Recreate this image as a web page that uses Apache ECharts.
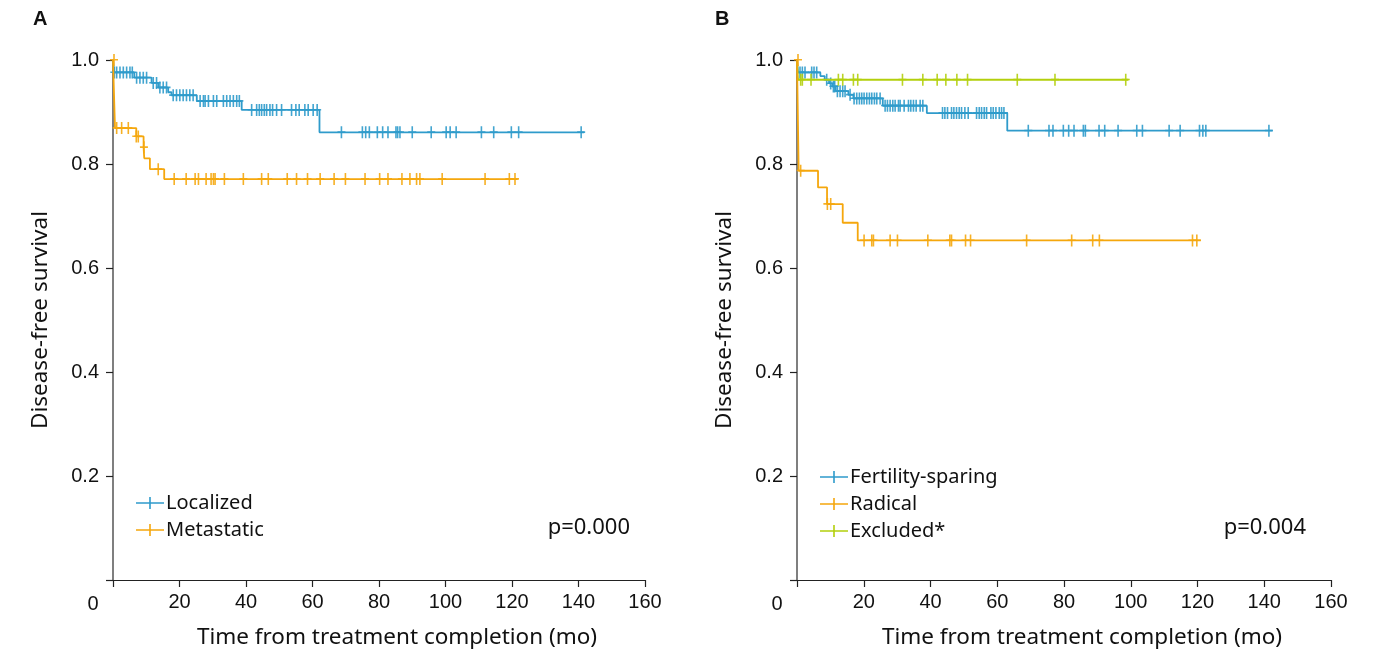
<!DOCTYPE html>
<html>
<head>
<meta charset="utf-8">
<script src="https://cdn.jsdelivr.net/npm/echarts@6/dist/echarts.min.js"></script>
<style>
  html, body { margin: 0; padding: 0; background: #fff; }
  #main { width: 1377px; height: 655px; }
</style>
</head>
<body>
<div id="main"></div>
<script>
// ---- data: step points [time, survival] and censor times (months) ----
var xTicks = [0, 20, 40, 60, 80, 100, 120, 140, 160];

// Panel A
var localizedSteps = [[0, 1.0], [0.3, 0.976], [6.4, 0.966], [11.6, 0.956], [13.6, 0.947], [16.6, 0.938],
    [17.6, 0.932], [25.2, 0.921], [38.7, 0.904], [62.1, 0.861], [141.7, 0.861]];
var localizedCensor = [0.4, 1.1, 2.1, 3.1, 4.1, 5.1, 5.8, 7.1, 8.1, 9.1, 10.1, 12.1, 13.1, 14.1, 15.1, 16.1,
    18.1, 19.1, 20.1, 21.1, 22.1, 23.1, 24.1, 26.2, 27.2, 27.7, 28.7, 30.2, 31.2, 33.2, 34.2, 35.2, 36.2,
    37.2, 38, 41.7, 43.2, 44, 44.7, 45.5, 46.2, 47.2, 48, 49.2, 50.7, 53.7, 55, 56, 57.7, 58.7, 60.2, 61.4,
    68.7, 75, 76, 77.1, 79.5, 81.1, 82.7, 85.1, 85.6, 86.3, 90, 95.7, 100.2, 101.4, 103.2, 110.8, 114.5,
    119.8, 122, 140.8];

var metastaticSteps = [[0, 1.0], [0.6, 0.869], [7.0, 0.853], [9.2, 0.832], [9.4, 0.811], [11.1, 0.790],
    [15.4, 0.771], [121.7, 0.771]];
var metastaticCensor = [0.3, 1.1, 2.6, 4.6, 7.0, 7.6, 9.3, 13.6, 18.4, 22, 24.7, 25.7, 28, 29.5, 30.2, 30.7,
    33.5, 39.2, 44.7, 46.7, 52.4, 55.2, 58.5, 62.3, 66.5, 69.9, 75.8, 80.2, 82.7, 86.9, 89.3, 91.3, 92.3,
    99, 111.9, 119.2, 120.9];

// Panel B
var fertilitySteps = [[0, 1.0], [0.3, 0.976], [7.0, 0.969], [8.3, 0.962], [9.6, 0.955], [10.6, 0.949],
    [11.6, 0.940], [15.4, 0.933], [16.9, 0.926], [25.7, 0.912], [38.9, 0.898], [63.0, 0.864], [142.5, 0.864]];
var fertilityCensor = [0.9, 1.6, 2.4, 4.4, 5.1, 5.9, 8.9, 10.1, 10.9, 11.3, 12.1, 12.9, 13.7, 14.4, 15.9,
    17.1, 17.9, 18.7, 19.4, 20.1, 20.9, 21.7, 22.4, 23.2, 23.9, 24.9, 26.4, 27.1, 27.9, 28.7, 29.4, 30.4,
    30.9, 32.1, 33.4, 34.1, 34.9, 35.7, 36.9, 37.7, 43.6, 44.3, 45.1, 46.3, 47, 47.8, 48.6, 49.3, 50.3,
    51.3, 53.8, 54.6, 55.3, 56.1, 56.8, 58.1, 58.8, 59.6, 60.6, 61.3, 62, 69.3, 75.5, 76.7, 79.8, 81.4,
    83, 85.8, 86.4, 90.5, 92.2, 96.2, 101.8, 103.5, 111.5, 114.8, 120.6, 121.6, 122.5, 141.4];

var radicalSteps = [[0, 1.0], [0.5, 0.787], [6.3, 0.755], [9.0, 0.723], [13.7, 0.687], [18.2, 0.653], [121, 0.653]];
var radicalCensor = [0.3, 1.1, 9.1, 10.1, 20.1, 22.4, 22.9, 27.9, 30.1, 39.2, 45.8, 46.3, 50.5, 52, 68.8,
    82.3, 88.6, 90.6, 118.5, 119.8];

var excludedSteps = [[0, 1.0], [0.3, 0.962], [99.3, 0.962]];
var excludedCensor = [1.1, 1.6, 4.2, 12.4, 13.7, 16.9, 18.2, 31.6, 37.7, 42, 44.6, 47.9, 51.1, 66, 77.3, 98.5];

var BLUE = '#2f9bcb';
var ORANGE = '#f5a70d';
var GREEN = '#b3cf0c';

// survival level of a step curve at time t
function levelAt(steps, t) {
    var v = steps[0][1];
    for (var i = 0; i < steps.length; i++) {
        if (steps[i][0] <= t) v = steps[i][1];
    }
    return v;
}

var plusMark = 'path://M0,5h8v1.6h-8z M3.2,0h1.6v12h-1.6z';
var plusIcon = 'path://M0,5.2h28v1.6h-28z M13.2,0h1.6v12h-1.6z';

function curve(name, steps, idx, color, z) {
    return {
        name: name, type: 'line', step: 'end', xAxisIndex: idx, yAxisIndex: idx,
        data: steps, showSymbol: false, symbol: 'none', z: z,
        lineStyle: { color: color, width: 1.8 }, itemStyle: { color: color },
        animation: false
    };
}
function marks(name, steps, times, idx, color, z) {
    return {
        name: name, type: 'scatter', xAxisIndex: idx, yAxisIndex: idx,
        data: times.map(function (t) { return [t, levelAt(steps, t)]; }),
        symbol: plusMark, symbolSize: [8, 12], z: z,
        itemStyle: { color: color, opacity: 0.9 },
        animation: false
    };
}

var tickFont = { fontFamily: 'Liberation Sans', fontSize: 20, color: '#111' };
var nameFont = { fontFamily: 'Noto Sans', fontSize: 22.5, color: '#111' };

function xAxis(idx) {
    return {
        type: 'value', gridIndex: idx, min: 0, max: 160, interval: 20,
        name: 'Time from treatment completion (mo)', nameLocation: 'middle', nameGap: 46,
        nameTextStyle: Object.assign({ padding: [0, 0, 0, 36] }, nameFont),
        axisLine: { lineStyle: { color: '#222', width: 1.2 } },
        axisTick: { length: 7, lineStyle: { color: '#222', width: 1.2 } },
        axisLabel: Object.assign({
            margin: 12,
            formatter: function (v) { return v === 0 ? '' : String(v); }
        }, tickFont),
        splitLine: { show: false }
    };
}
function yAxis(idx) {
    return {
        type: 'value', gridIndex: idx, min: 0, max: 1, interval: 0.2,
        name: 'Disease-free survival', nameLocation: 'middle', nameGap: 61, nameTextStyle: nameFont,
        axisLine: { show: true, lineStyle: { color: '#555', width: 1.5 } },
        axisTick: { show: true, length: 7, lineStyle: { color: '#222', width: 1.2 } },
        axisLabel: Object.assign({
            margin: 14,
            formatter: function (v) { return v === 0 ? '' : v.toFixed(1); }
        }, tickFont),
        splitLine: { show: false }
    };
}

var legendText = { fontFamily: 'Noto Sans', fontSize: 20, color: '#111', lineHeight: 20, padding: [0, 0, 0, -3] };

var chart = echarts.init(document.getElementById('main'), null, { renderer: 'canvas' });

var option = {
    backgroundColor: '#fff',
    animation: false,
    grid: [
        { left: 113, right: 732, top: 60, bottom: 75 },
        { left: 797, right: 46, top: 60, bottom: 75 }
    ],
    xAxis: [xAxis(0), xAxis(1)],
    yAxis: [yAxis(0), yAxis(1)],
    legend: [
        {
            data: ['Localized', 'Metastatic'], orient: 'vertical', left: 131, top: 488,
            icon: plusIcon, itemWidth: 28, itemHeight: 12, itemGap: 7,
            textStyle: legendText, selectedMode: false
        },
        {
            data: ['Fertility-sparing', 'Radical', 'Excluded*'], orient: 'vertical', left: 815, top: 462,
            icon: plusIcon, itemWidth: 28, itemHeight: 12, itemGap: 7,
            textStyle: legendText, selectedMode: false
        }
    ],
    graphic: [
        { type: 'text', left: 33, top: 9, style: { text: 'A', font: 'bold 20px "Liberation Sans"', fill: '#111' } },
        { type: 'text', left: 715, top: 9, style: { text: 'B', font: 'bold 20px "Liberation Sans"', fill: '#111' } },
        { type: 'text', x: 93, y: 604, style: { text: '0', font: '20px "Liberation Sans"', fill: '#111', align: 'center', verticalAlign: 'middle' } },
        { type: 'text', x: 777, y: 604, style: { text: '0', font: '20px "Liberation Sans"', fill: '#111', align: 'center', verticalAlign: 'middle' } },
        { type: 'text', x: 630, y: 528, style: { text: 'p=0.000', font: '22px "Noto Sans"', fill: '#111', align: 'right', verticalAlign: 'middle' } },
        { type: 'text', x: 1306, y: 528, style: { text: 'p=0.004', font: '22px "Noto Sans"', fill: '#111', align: 'right', verticalAlign: 'middle' } }
    ],
    series: [
        curve('Localized', localizedSteps, 0, BLUE, 2),
        marks('Localized', localizedSteps, localizedCensor, 0, BLUE, 3),
        curve('Metastatic', metastaticSteps, 0, ORANGE, 4),
        marks('Metastatic', metastaticSteps, metastaticCensor, 0, ORANGE, 5),

        curve('Fertility-sparing', fertilitySteps, 1, BLUE, 2),
        marks('Fertility-sparing', fertilitySteps, fertilityCensor, 1, BLUE, 3),
        curve('Excluded*', excludedSteps, 1, GREEN, 4),
        marks('Excluded*', excludedSteps, excludedCensor, 1, GREEN, 5),
        curve('Radical', radicalSteps, 1, ORANGE, 6),
        marks('Radical', radicalSteps, radicalCensor, 1, ORANGE, 7)
    ]
};
chart.setOption(option);
</script>
</body>
</html>
